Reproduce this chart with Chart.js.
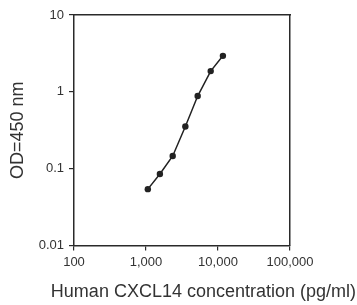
<!DOCTYPE html>
<html>
<head>
<meta charset="utf-8">
<script src="https://cdn.jsdelivr.net/npm/chart.js@4"></script>
<style>
    body { margin: 0; background: #fff; }
</style>
</head>
<body>
<canvas id="chart" width="357" height="305"></canvas>
<script>

const concentrations = [1060, 1560, 2350, 3520, 5220, 7920, 11700];
const odValues = [0.054, 0.085, 0.146, 0.353, 0.88, 1.86, 2.94];

const xTickValues = [100, 1000, 10000, 100000];
const xTickLabels = ["100", "1,000", "10,000", "100,000"];
const yTickValues = [0.01, 0.1, 1, 10];
const yTickLabels = ["0.01", "0.1", "1", "10"];

const xTitle = "Human CXCL14 concentration (pg/ml)";
const yTitle = "OD=450 nm";

const FONT = "'Liberation Sans', Arial, sans-serif";
const AXIS = "#2a2a2a";

const points = concentrations.map((c, i) => ({ x: c, y: odValues[i] }));

function setTicks(values) {
    return scale => {
        scale.ticks = values.map(v => ({ value: v }));
    };
}

const ctx = document.getElementById("chart");

new Chart(ctx, {

    type: "line",

    data: {
        datasets: [{
            data: points,
            borderColor: "#222",
            backgroundColor: "#222",
            borderWidth: 1.5,
            pointRadius: 3.2,
            pointBorderWidth: 0,
            fill: false,
            tension: 0
        }]
    },

    options: {
        responsive: false,
        animation: false,
        layout: {
            padding: { left: 0, right: 1, top: 0, bottom: 0 }
        },
        plugins: {
            legend: { display: false },
            tooltip: { enabled: false },
            title: {
                display: true,
                text: xTitle,
                position: "bottom",
                align: "end",
                fullSize: true,
                color: "#333",
                font: { family: FONT, size: 18, weight: "normal" },
                padding: { top: 2, bottom: 2 }
            }
        },
        scales: {

            x: {
                type: "logarithmic",
                position: "bottom",
                min: 100,
                max: 100000,
                afterBuildTicks: setTicks(xTickValues),
                afterFit: scale => { scale.height = 34; },
                ticks: {
                    autoSkip: false,
                    maxRotation: 0,
                    padding: 4,
                    color: "#333",
                    font: { family: FONT, size: 13 },
                    callback: (value) => xTickLabels[xTickValues.indexOf(value)]
                },
                grid: {
                    drawOnChartArea: false,
                    drawTicks: true,
                    tickLength: 5,
                    color: AXIS,
                    lineWidth: 1.2
                },
                border: { display: true, color: AXIS, width: 1.5 }
            },

            y: {
                type: "logarithmic",
                position: "left",
                min: 0.01,
                max: 10,
                afterBuildTicks: setTicks(yTickValues),
                afterFit: scale => { scale.width = 74; },
                ticks: {
                    autoSkip: false,
                    padding: 5,
                    color: "#333",
                    font: { family: FONT, size: 13 },
                    callback: (value) => yTickLabels[yTickValues.indexOf(value)]
                },
                grid: {
                    drawOnChartArea: false,
                    drawTicks: true,
                    tickLength: 5,
                    color: AXIS,
                    lineWidth: 1.2
                },
                border: { display: true, color: AXIS, width: 1.5 },
                title: {
                    display: true,
                    text: yTitle,
                    color: "#333",
                    font: { family: FONT, size: 18 },
                    padding: { top: 7, bottom: 0 }
                }
            },

            // frame lines on top and right
            x2: {
                type: "linear",
                position: "top",
                display: true,
                afterFit: scale => { scale.height = 15; },
                ticks: { display: false },
                grid: { drawOnChartArea: false, drawTicks: false },
                border: { display: true, color: AXIS, width: 1.5 }
            },

            y2: {
                type: "linear",
                position: "right",
                display: true,
                afterFit: scale => { scale.width = 66; },
                ticks: { display: false },
                grid: { drawOnChartArea: false, drawTicks: false },
                border: { display: true, color: AXIS, width: 1.5 }
            }
        }
    }
});

</script>
</body>
</html>
